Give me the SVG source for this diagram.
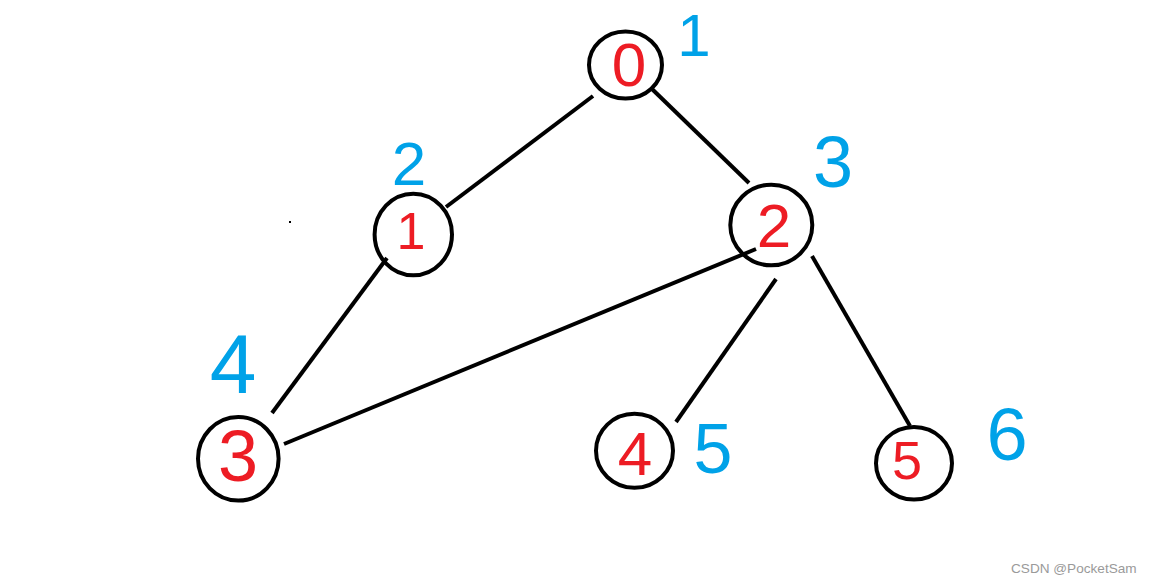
<svg xmlns="http://www.w3.org/2000/svg" width="1154" height="580" viewBox="0 0 1154 580">
<style>
.node{fill:none;stroke:#000;stroke-width:4}
.edge{stroke:#000;stroke-width:4;stroke-linecap:butt}
.red{fill:#ED1C24;font-family:"Liberation Sans",Arial,sans-serif;text-anchor:middle}
.blue{fill:#00A2E8;font-family:"Liberation Sans",Arial,sans-serif;text-anchor:middle}
.wm{fill:#9a9a9a;font-family:"Liberation Sans",Arial,sans-serif;font-size:13.6px}
</style>
<rect width="1154" height="580" fill="#fff"/>
<g id="connectors">
<line class="edge" x1="593" y1="96" x2="446" y2="207"/>
<line class="edge" x1="652" y1="89" x2="749" y2="183"/>
<line class="edge" x1="387" y1="258" x2="272" y2="413"/>
<line class="edge" x1="284" y1="444" x2="756" y2="249"/>
<line class="edge" x1="776" y1="279" x2="676" y2="422"/>
<line class="edge" x1="812" y1="256" x2="910" y2="426"/>
</g>
<g id="node0">
<ellipse class="node" cx="625.5" cy="65" rx="36.5" ry="33.5"/>
<text class="red" x="629" y="86" font-size="62">0</text>
<text class="blue" x="694" y="56" font-size="60">1</text>
</g>
<g id="node1">
<ellipse class="node" cx="413.3" cy="234.5" rx="38.7" ry="40.8"/>
<text class="red" x="411" y="249" font-size="52">1</text>
<text class="blue" x="409" y="185" font-size="62">2</text>
</g>
<g id="node2">
<ellipse class="node" cx="771.3" cy="225" rx="41" ry="40.3"/>
<text class="red" x="774" y="247" font-size="62">2</text>
<text class="blue" x="833" y="187" font-size="72">3</text>
</g>
<g id="node3">
<ellipse class="node" cx="238.3" cy="458.8" rx="40.3" ry="41.8"/>
<text class="red" x="238" y="481" font-size="72">3</text>
<text class="blue" x="233" y="393" font-size="84">4</text>
</g>
<g id="node4">
<ellipse class="node" cx="634.5" cy="450.8" rx="38.5" ry="37"/>
<text class="red" x="635" y="475" font-size="62">4</text>
<text class="blue" x="713" y="473" font-size="70">5</text>
</g>
<g id="node5">
<ellipse class="node" cx="914" cy="463.3" rx="38" ry="36.3"/>
<text class="red" x="907" y="479" font-size="54">5</text>
<text class="blue" x="1007" y="460" font-size="74">6</text>
</g>
<rect x="289" y="221" width="2" height="2" fill="#000"/>
<text class="wm" x="1011" y="573">CSDN @PocketSam</text>
</svg>
